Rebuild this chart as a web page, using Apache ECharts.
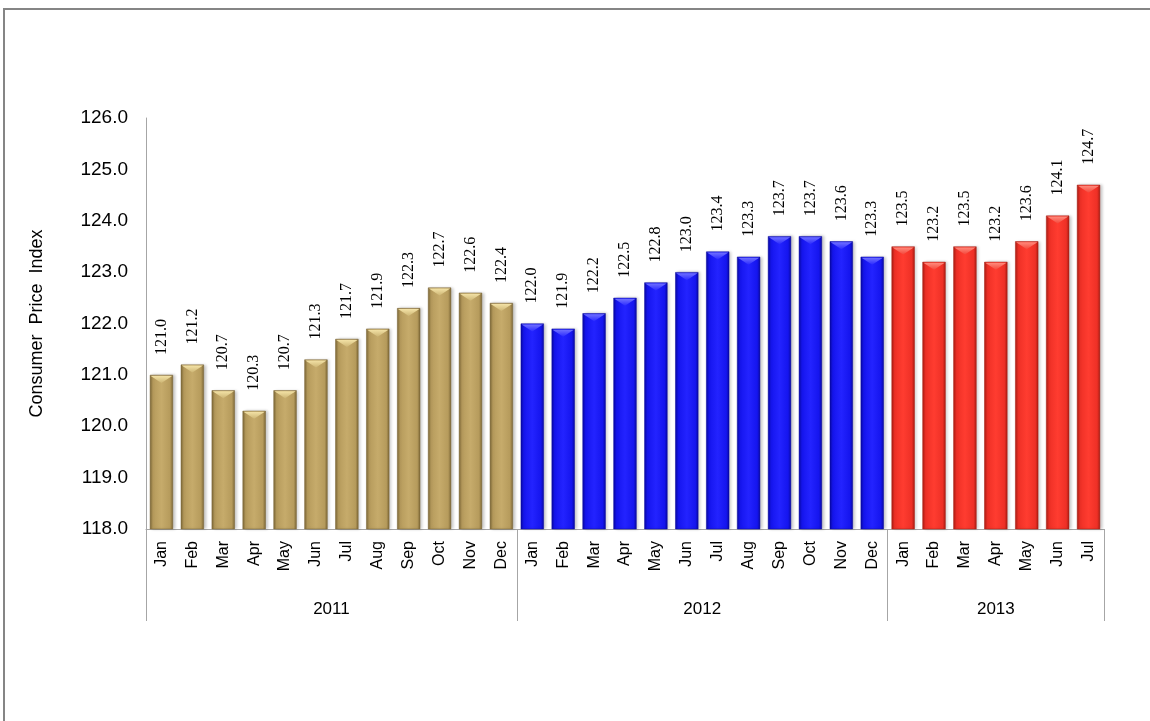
<!DOCTYPE html>
<html>
<head>
<meta charset="utf-8">
<script src="https://cdn.jsdelivr.net/npm/echarts@6/dist/echarts.min.js"></script>
<style>
  html, body { margin: 0; padding: 0; background: #fff; overflow: hidden; }
  #frame { position: absolute; left: 3px; top: 8px; width: 1200px; height: 800px; border-left: 2px solid #858585; border-top: 2px solid #858585; }
  #chart { position: absolute; left: 0; top: 0; width: 1150px; height: 721px; }
</style>
</head>
<body>
<div id="frame"></div>
<div id="chart"></div>
<script>
// ---- data ----
const years = ['2011', '2012', '2013'];
const months2011 = ['Jan','Feb','Mar','Apr','May','Jun','Jul','Aug','Sep','Oct','Nov','Dec'];
const months2012 = ['Jan','Feb','Mar','Apr','May','Jun','Jul','Aug','Sep','Oct','Nov','Dec'];
const months2013 = ['Jan','Feb','Mar','Apr','May','Jun','Jul'];
const cpi2011 = [121.0, 121.2, 120.7, 120.3, 120.7, 121.3, 121.7, 121.9, 122.3, 122.7, 122.6, 122.4];
const cpi2012 = [122.0, 121.9, 122.2, 122.5, 122.8, 123.0, 123.4, 123.3, 123.7, 123.7, 123.6, 123.3];
const cpi2013 = [123.5, 123.2, 123.5, 123.2, 123.6, 124.1, 124.7];
const yTicks = [118, 119, 120, 121, 122, 123, 124, 125, 126];

// ---- styles per year ----
const palettes = [
  { dark: '#7a6535', mid: '#b69b5c', light: '#c6ab6b', tri: '#f3e2a6', triEnd: '#cdb574' },
  { dark: '#0808a0', mid: '#1515ee', light: '#2323ff', tri: '#7070ff', triEnd: '#2a2aff' },
  { dark: '#a81c12', mid: '#ee3026', light: '#ff3c30', tri: '#ff8a7c', triEnd: '#f4463a' }
];
function barGrad(p) {
  return new echarts.graphic.LinearGradient(0, 0, 1, 0, [
    { offset: 0, color: p.dark },
    { offset: 0.13, color: p.mid },
    { offset: 0.5, color: p.light },
    { offset: 0.87, color: p.mid },
    { offset: 1, color: p.dark }
  ]);
}
function triGrad(p) {
  return new echarts.graphic.LinearGradient(0, 0, 0, 1, [
    { offset: 0, color: p.tri },
    { offset: 1, color: p.triEnd }
  ]);
}

const groups = [
  { year: years[0], months: months2011, values: cpi2011 },
  { year: years[1], months: months2012, values: cpi2012 },
  { year: years[2], months: months2013, values: cpi2013 }
];

const categories = [];
const barData = [];
const triData = [];
const boundaries = [0];
const centers = [];
let pos = 0;
groups.forEach((g, gi) => {
  const p = palettes[gi];
  g.months.forEach((m, i) => {
    categories.push(m);
    barData.push({ value: g.values[i], itemStyle: { color: barGrad(p), borderColor: p.dark, borderWidth: 0.5 } });
    triData.push({ value: g.values[i], itemStyle: { color: triGrad(p) } });
  });
  centers.push(pos + g.months.length / 2);
  pos += g.months.length;
  boundaries.push(pos);
});
const total = pos;

const chart = echarts.init(document.getElementById('chart'), null, { renderer: 'canvas' });
const option = {
  backgroundColor: 'transparent',
  animation: false,
  grid: { left: 146, top: 118, right: 46, bottom: 192, containLabel: false },
  xAxis: [
    {
      type: 'category',
      data: categories,
      position: 'bottom',
      axisLine: { show: true, lineStyle: { color: '#a6a6a6', width: 1 } },
      axisTick: { show: false },
      axisLabel: {
        interval: 0, rotate: 90, margin: 12,
        fontFamily: 'Liberation Sans, Arial, sans-serif', fontSize: 16, color: '#000'
      }
    },
    {
      type: 'value',
      min: 0, max: total,
      position: 'bottom',
      axisLine: { show: false },
      splitLine: { show: false },
      axisTick: { show: true, length: 92, customValues: boundaries, lineStyle: { color: '#a6a6a6', width: 1 } },
      axisLabel: {
        customValues: centers, margin: 72,
        fontFamily: 'Liberation Sans, Arial, sans-serif', fontSize: 17, color: '#000',
        formatter: function (v) {
          const idx = centers.findIndex(c => Math.abs(c - v) < 1e-6);
          return idx >= 0 ? years[idx] : '';
        }
      }
    }
  ],
  yAxis: {
    type: 'value',
    min: yTicks[0], max: yTicks[yTicks.length - 1], interval: 1,
    name: 'Consumer  Price  Index',
    nameLocation: 'middle', nameGap: 100, nameRotate: 90,
    nameTextStyle: { fontFamily: 'Liberation Sans, Arial, sans-serif', fontSize: 18, color: '#000' },
    axisLine: { show: true, lineStyle: { color: '#a6a6a6', width: 1 } },
    axisTick: { show: false },
    splitLine: { show: false },
    axisLabel: {
      margin: 18, fontFamily: 'Liberation Sans, Arial, sans-serif', fontSize: 19, color: '#000',
      formatter: v => v.toFixed(1)
    }
  },
  series: [
    {
      type: 'bar',
      data: barData,
      barCategoryGap: '25%',
      itemStyle: { shadowColor: 'rgba(0,0,0,0.22)', shadowBlur: 3, shadowOffsetX: 2, shadowOffsetY: 0 },
      label: {
        show: true, position: 'top', distance: 20, rotate: 90,
        align: 'left', verticalAlign: 'middle',
        fontFamily: 'Liberation Serif, Times New Roman, serif', fontSize: 16, color: '#000',
        formatter: p => Number(p.value).toFixed(1)
      },
      z: 2
    },
    {
      type: 'pictorialBar',
      data: triData,
      symbol: 'path://M0,0 L20,0 L10,6 Z',
      symbolSize: ['92%', 7],
      symbolPosition: 'end',
      symbolOffset: [0, 1],
      barCategoryGap: '25%',
      barGap: '-100%',
      z: 3,
      silent: true
    }
  ]
};
chart.setOption(option);
</script>
</body>
</html>
